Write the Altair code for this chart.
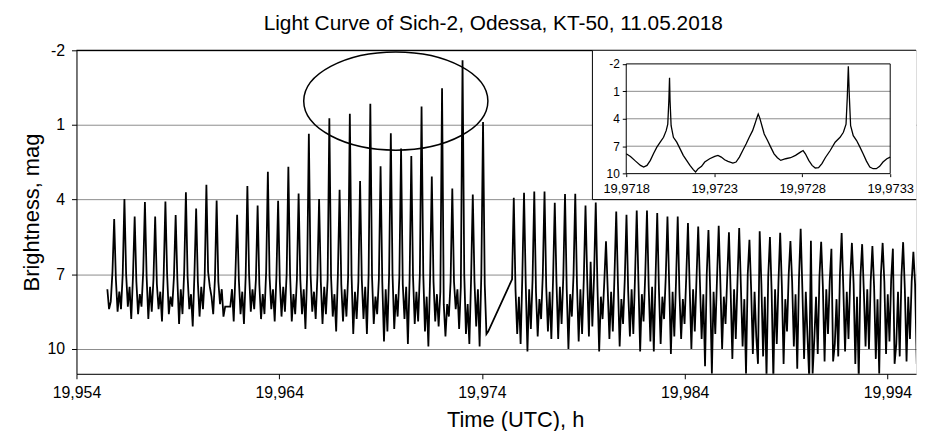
import altair as alt
import pandas as pd

FONT = "Liberation Sans"

# ---------------- main light curve ----------------
PERIOD = 0.0005054          # h, spike-to-spike spacing
DT = PERIOD / 6             # 6 samples per spin cycle
SEG1_START = 19.955523      # first sample before the gap
SEG2_START = 19.975487      # first sample after the gap

# each row: [peak, after-peak, low, bump, low, pre-peak] (magnitudes)
seg1_lead = [7.6, 8.4, 8.1, 6.9]
seg1_cycles = [
    [4.78, 7.2, 8.5, 7.7, 8.4, 7.0],
    [3.98, 7.0, 8.3, 7.5, 8.8, 7.1],
    [4.68, 7.3, 8.6, 7.8, 8.3, 6.9],
    [4.10, 7.1, 8.8, 7.5, 8.5, 7.2],
    [4.68, 7.4, 8.4, 7.7, 8.9, 7.0],
    [4.08, 7.0, 8.6, 7.9, 8.3, 7.1],
    [4.62, 7.2, 9.0, 7.6, 8.6, 6.9],
    [3.70, 7.1, 8.4, 7.8, 9.1, 7.0],
    [4.36, 7.3, 8.7, 7.5, 8.4, 7.1],
    [3.40, 6.9, 7.5, 7.9, 8.6, 7.2],
    [4.04, 7.3, 8.2, 7.6, 8.7, 8.3],
    [8.30, 8.3, 8.3, 7.6, 8.9, 7.0],
    [4.61, 7.2, 8.6, 7.7, 9.0, 7.1],
    [3.45, 7.0, 8.5, 7.6, 8.4, 7.2],
    [4.24, 7.4, 8.8, 7.8, 8.6, 6.9],
    [2.88, 7.1, 8.4, 7.6, 8.9, 7.1],
    [4.05, 7.3, 8.7, 7.5, 8.5, 7.0],
    [2.68, 7.0, 8.9, 7.8, 8.6, 7.2],
    [3.75, 7.2, 8.6, 7.6, 9.2, 7.0],
    [1.35, 7.0, 8.5, 7.7, 8.8, 7.1],
    [3.98, 7.3, 9.0, 7.5, 8.6, 7.2],
    [0.73, 7.1, 8.7, 7.8, 9.3, 7.0],
    [3.60, 7.4, 8.9, 7.6, 8.7, 7.1],
    [0.55, 7.0, 9.4, 7.7, 8.8, 7.3],
    [3.25, 7.2, 8.8, 7.5, 9.4, 7.0],
    [0.15, 7.1, 9.0, 7.9, 8.6, 7.2],
    [2.66, 7.3, 9.7, 7.6, 9.3, 7.0],
    [1.33, 7.0, 9.2, 7.8, 8.7, 7.1],
    [1.95, 7.4, 8.8, 7.5, 9.8, 7.2],
    [2.25, 7.1, 9.0, 7.7, 8.9, 7.0],
    [0.26, 7.0, 9.3, 7.9, 9.9, 7.1],
    [3.07, 7.3, 8.9, 7.8, 9.1, 7.7],
    [-0.47, 8.2, 9.5, 8.2, 8.7, 7.3],
    [3.55, 7.3, 8.4, 7.6, 9.2, 7.5],
    [-1.60, 7.0, 9.4, 8.2, 9.8, 7.2],
    [3.80, 7.3, 9.1, 7.6, 9.9, 7.0],
]
seg1_tail = [0.88, 7.4, 9.4, 9.3]

seg2_lead = [7.2]
seg2_cycles = [
    [3.93, 7.6, 9.4, 7.9, 9.8, 7.1],
    [3.72, 7.4, 10.1, 7.6, 9.2, 7.2],
    [3.67, 7.7, 9.5, 8.0, 8.8, 7.0],
    [3.67, 7.5, 9.3, 7.7, 9.6, 7.2],
    [4.13, 7.3, 9.6, 7.5, 9.0, 7.1],
    [3.78, 7.6, 10.0, 7.8, 8.7, 7.0],
    [3.77, 7.4, 9.7, 7.6, 9.4, 7.2],
    [4.24, 7.2, 9.5, 6.5, 9.1, 7.1],
    [4.12, 7.5, 10.1, 7.9, 8.8, 7.3],
    [5.67, 7.6, 9.6, 7.7, 9.3, 7.0],
    [4.48, 7.4, 9.9, 8.0, 9.0, 7.2],
    [4.61, 7.7, 9.5, 7.6, 9.4, 7.1],
    [4.44, 7.3, 10.1, 7.8, 8.9, 7.0],
    [4.44, 7.5, 9.7, 7.5, 10.1, 7.2],
    [4.54, 7.6, 9.8, 7.9, 8.8, 7.1],
    [4.68, 7.4, 10.2, 7.7, 9.5, 7.3],
    [4.68, 7.7, 9.6, 8.0, 9.0, 7.1],
    [4.94, 7.5, 10.0, 7.6, 9.3, 7.2],
    [5.08, 7.3, 9.6, 7.8, 10.7, 7.0],
    [5.22, 7.6, 11.0, 7.7, 9.4, 7.2],
    [5.05, 7.4, 10.0, 7.9, 9.0, 7.1],
    [5.31, 7.7, 10.4, 7.6, 9.6, 7.3],
    [5.14, 7.5, 9.9, 8.0, 11.0, 7.0],
    [5.61, 7.6, 10.2, 7.7, 9.5, 10.6],
    [5.27, 7.4, 10.3, 7.9, 11.1, 7.1],
    [5.50, 7.7, 11.2, 7.6, 9.8, 7.3],
    [5.33, 7.5, 10.6, 8.0, 9.3, 7.0],
    [5.66, 7.3, 9.9, 7.8, 10.8, 7.2],
    [5.17, 7.6, 10.4, 7.7, 9.5, 11.2],
    [5.65, 11.0, 9.6, 7.9, 10.2, 7.1],
    [5.69, 7.5, 10.5, 7.6, 9.4, 7.3],
    [5.98, 10.5, 9.8, 8.0, 10.3, 7.0],
    [5.34, 7.6, 10.1, 7.7, 9.6, 7.2],
    [5.74, 7.4, 10.6, 7.9, 11.2, 7.1],
    [5.79, 7.7, 9.9, 7.6, 10.0, 7.3],
    [5.87, 7.5, 10.4, 8.0, 11.0, 7.0],
    [5.74, 7.3, 10.2, 7.8, 9.7, 7.2],
    [5.97, 10.6, 9.8, 7.7, 10.3, 7.1],
    [5.71, 7.6, 10.5, 7.9, 9.6, 7.3],
]
seg2_tail = [6.10, 7.4, 10.6, 8.0, 9.4]

# ---------------- inset (zoomed part) ----------------
inset_t = [
    19.971800, 19.971824, 19.971853, 19.971881, 19.971899, 19.971918, 19.971937,
    19.971956, 19.971974, 19.971993, 19.972012, 19.972027, 19.972036, 19.972042,
    19.972046, 19.972049, 19.972055, 19.972068, 19.972087, 19.972106, 19.972124,
    19.972143, 19.972162, 19.972181, 19.972194, 19.972209, 19.972228, 19.972246,
    19.972274, 19.972303, 19.972321, 19.972340, 19.972359, 19.972378, 19.972406,
    19.972424, 19.972443, 19.972462, 19.972481, 19.972499, 19.972518, 19.972531,
    19.972543, 19.972550, 19.972559, 19.972571, 19.972584, 19.972603, 19.972621,
    19.972640, 19.972659, 19.972678, 19.972706, 19.972734, 19.972762, 19.972790,
    19.972805, 19.972818, 19.972837, 19.972856, 19.972874, 19.972893, 19.972912,
    19.972931, 19.972959, 19.972987, 19.973015, 19.973034, 19.973049, 19.973056,
    19.973062, 19.973068, 19.973075, 19.973090, 19.973109, 19.973128, 19.973146,
    19.973165, 19.973184, 19.973203, 19.973221, 19.973240, 19.973259, 19.973281,
    19.973300,
]
inset_mag = [
    7.83, 8.12, 8.63, 9.10, 9.28, 9.10, 8.55,
    7.76, 7.10, 6.56, 6.02, 5.30, 4.58, 2.05,
    -0.48, 2.05, 4.76, 6.02, 6.56, 7.29, 8.00,
    8.55, 9.10, 9.56, 9.82, 9.46, 9.20, 8.73,
    8.37, 8.12, 8.00, 8.19, 8.48, 8.66, 8.84,
    8.73, 8.19, 7.47, 6.75, 6.02, 5.30, 4.58,
    3.85, 3.49, 3.93, 4.76, 5.66, 6.38, 7.10,
    7.83, 8.26, 8.55, 8.37, 8.26, 8.00, 7.65,
    7.47, 7.83, 8.55, 9.10, 9.38, 9.35, 8.91,
    8.26, 7.47, 6.56, 6.02, 5.48, 4.58, 1.69,
    -1.75, 1.69, 4.76, 5.84, 6.38, 7.10, 7.83,
    8.63, 9.28, 9.46, 9.46, 9.20, 8.73, 8.37,
    8.19,
]

x_ticks = [19.954, 19.964, 19.974, 19.984, 19.994]
y_ticks = [-2, 1, 4, 7, 10]
inset_x_ticks = [19.9718, 19.9723, 19.9728, 19.9733]
inset_grid = [1, 4, 7]

X_DOMAIN = [19.954, 19.995412]
Y_DOMAIN = [-2, 11]
INSET_X = [19.9718, 19.9733]
INSET_Y = [-2, 10]
INSET_BOX = dict(t=19.97945, t2=19.9965, m=-2, m2=4.0)   # white panel (main coords)
ELLIPSE = dict(t=19.969752, mag=0.04)
ELLIPSE_PATH = ("M -1 0 C -1 -0.294 -0.552 -0.533 0 -0.533 "
                "C 0.552 -0.533 1 -0.294 1 0 C 1 0.294 0.552 0.533 0 0.533 "
                "C -0.552 0.533 -1 0.294 -1 0 Z")

W, H = 846, 326


def build(start, lead, cycles, tail):
    vals = list(lead)
    for c in cycles:
        vals.extend(c)
    vals.extend(tail)
    return [(start + i * DT, v) for i, v in enumerate(vals)]


rows = build(SEG1_START, seg1_lead, seg1_cycles, seg1_tail) + \
    build(SEG2_START, seg2_lead, seg2_cycles, seg2_tail)
df_main = pd.DataFrame(rows, columns=["t", "mag"])
df_inset = pd.DataFrame({"ti": inset_t, "mi": inset_mag})
df_igrid = pd.DataFrame({"mi": inset_grid})
df_ell = pd.DataFrame([ELLIPSE])

xs = alt.Scale(domain=X_DOMAIN, nice=False, zero=False)
ys = alt.Scale(domain=Y_DOMAIN, reverse=True, nice=False, zero=False)

x_axis = alt.Axis(
    values=x_ticks, labelExpr="replace(format(datum.value, '.3f'), '.', ',')",
    grid=False, tickSize=5, tickColor="black", domainColor="black",
    labelFontSize=16, labelPadding=6, labelColor="black", labelFlush=False,
    title="Time (UTC), h", titleFontSize=22, titleFontWeight="normal",
    titleX=442, titleY=53, titleBaseline="alphabetic", titleAlign="center",
    titleColor="black",
)
y_axis = alt.Axis(
    values=y_ticks, labelExpr="'' + datum.value",
    grid=True, gridColor="#8c8c8c", gridWidth=1,
    tickSize=5, tickColor="black", domainColor="black",
    labelFontSize=16, labelPadding=7, labelColor="black", labelFlush=False,
    title="Brightness, mag", titleFontSize=22, titleFontWeight="normal",
    titleX=-45, titleY=H / 2, titleAngle=270, titleAlign="center",
    titleBaseline="middle", titleColor="black",
)

line = alt.Chart(df_main).mark_line(color="black", strokeWidth=1.8, clip=True).encode(
    x=alt.X("t:Q", scale=xs, axis=x_axis),
    y=alt.Y("mag:Q", scale=ys, axis=y_axis),
)
top_rule = alt.Chart(df_ell).mark_rule(color="black", strokeWidth=1.2).encode(
    y=alt.datum(Y_DOMAIN[0]))
ellipse = alt.Chart(df_ell).mark_point(
    shape=ELLIPSE_PATH, size=34447, filled=False, stroke="black",
    strokeWidth=1.5, opacity=1,
).encode(x="t:Q", y="mag:Q")
box = alt.Chart(df_ell).mark_rect(
    fill="white", stroke="black", strokeWidth=1, clip=True
).encode(
    x=alt.datum(INSET_BOX["t"]), x2=alt.datum(INSET_BOX["t2"]),
    y=alt.datum(INSET_BOX["m"]), y2=alt.datum(INSET_BOX["m2"]),
)
main = alt.layer(line, top_rule, ellipse, box)

# inset
ixs = alt.Scale(domain=INSET_X, range=[554, 820], nice=False, zero=False)
iys = alt.Scale(domain=INSET_Y, range=[13.7, 124.3], nice=False, zero=False)
ix_axis = alt.Axis(
    orient="bottom", offset=-201.7, values=inset_x_ticks,
    labelExpr="replace(format(datum.value, '.4f'), '.', ',')",
    grid=False, domain=False, tickSize=3, tickColor="black", labelFlush=False,
    labelFontSize=13, labelPadding=6, labelColor="black", title=None, zindex=2,
)
iy_axis = alt.Axis(
    orient="left", offset=-554, values=y_ticks, labelExpr="'' + datum.value",
    grid=False, domain=False, tickSize=4, tickColor="black", labelFlush=False,
    labelFontSize=12, labelPadding=3, labelColor="black", title=None, zindex=2,
)
igrid = alt.Chart(df_igrid).mark_rule(color="#8c8c8c", strokeWidth=1).encode(
    x=alt.datum(INSET_X[0]), x2=alt.datum(INSET_X[1]),
    y=alt.Y("mi:Q", scale=iys, axis=iy_axis),
)
iframe = alt.Chart(df_ell).mark_rect(fill=None, stroke="black", strokeWidth=1).encode(
    x=alt.datum(INSET_X[0]), x2=alt.datum(INSET_X[1]),
    y=alt.datum(INSET_Y[0]), y2=alt.datum(INSET_Y[1]),
)
iline = alt.Chart(df_inset).mark_line(color="black", strokeWidth=1.3).encode(
    x=alt.X("ti:Q", scale=ixs, axis=ix_axis),
    y=alt.Y("mi:Q", scale=iys),
)
inset = alt.layer(igrid, iframe, iline)

chart = alt.layer(main, inset).resolve_scale(
    x="independent", y="independent"
).properties(
    width=W, height=H,
    title=alt.TitleParams(
        "Light Curve of Sich-2, Odessa, KT-50, 11.05.2018",
        fontSize=21, font=FONT, fontWeight="normal", color="black",
        anchor="middle", frame="group", dx=-3, offset=8,
    ),
    padding={"left": 69, "top": 41, "right": 2, "bottom": 56},
    autosize=alt.AutoSizeParams(type="none"),
).configure_axis(
    labelFont=FONT, titleFont=FONT,
).configure_view(stroke=None).configure(background="white")

chart.save("out.html", embed_options={"renderer": "svg", "actions": False})
